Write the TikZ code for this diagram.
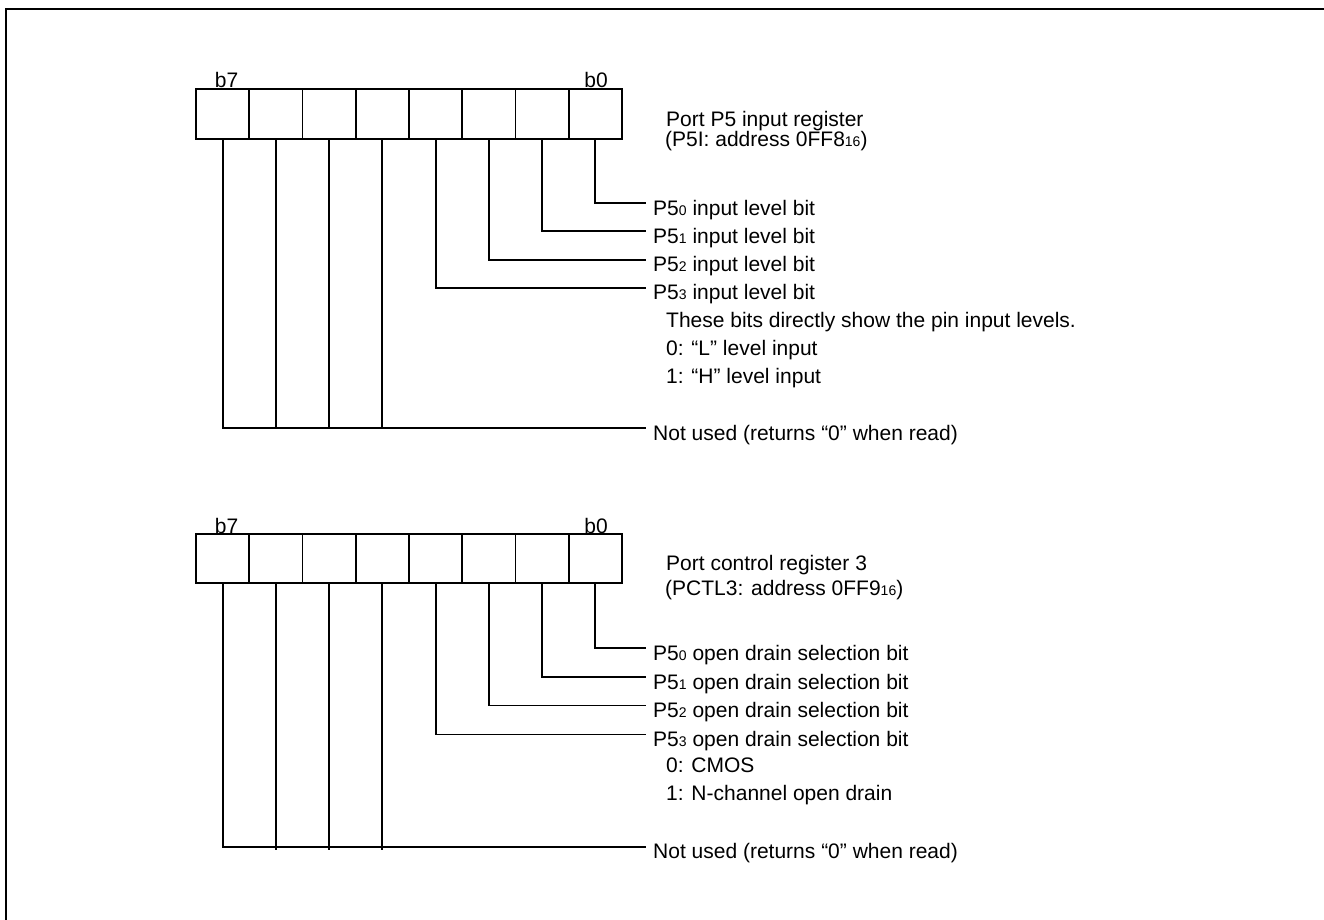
\documentclass[tikz,border=0pt]{standalone}
\usepackage{fontspec}
\setmainfont{Liberation Sans}
\newcommand{\lowsub}[1]{{\fontsize{14}{14}\selectfont #1}}
\begin{document}
\begin{tikzpicture}[x=1pt,y=-1pt,
  cell/.style={draw, line width=1.8pt, minimum width=53.25pt, minimum height=50pt, inner sep=0pt, outer sep=0pt, anchor=north west},
  lbl/.style={inner sep=0pt, anchor=base west, font=\fontsize{21}{21}\selectfont},
  bitlbl/.style={inner sep=0pt, anchor=base, font=\fontsize{21}{21}\selectfont},
  wire/.style={line width=1.8pt},
  frame/.style={line width=2.2pt}]
\useasboundingbox (0,0) rectangle (1324,920);
\draw[frame] (6,921) -- (6,9) -- (1325,9);

% ---------- Register 1: Port P5 input register ----------
\foreach \i in {0,...,7}{
  \pgfmathtruncatemacro\b{7-\i}
  \node[cell] (a\b) at ({196+\i*53.25},89) {};
}
\node[bitlbl] (ab7) at (226.5,88) {b7};
\node[bitlbl] (ab0) at (596,88) {b0};
\node[lbl] (at1) at (666,127) {Port P5 input register};
\node[lbl] (at2) at (665,147) {(P5I: address 0FF8\lowsub{16})};

\coordinate (ea0) at (646,203);
\coordinate (ea1) at (646,231);
\coordinate (ea2) at (646,260);
\coordinate (ea3) at (646,288);
\coordinate (eau) at (646,428);
\node[lbl] (la0) at (653,215.5) {P5\lowsub{0} input level bit};
\node[lbl] (la1) at (653,243.5) {P5\lowsub{1} input level bit};
\node[lbl] (la2) at (653,271.5) {P5\lowsub{2} input level bit};
\node[lbl] (la3) at (653,299.5) {P5\lowsub{3} input level bit};
\node[lbl] (lan1) at (666,327) {These bits directly show the pin input levels.};
\node[lbl] (lan2) at (666,355) {0: “L” level input};
\node[lbl] (lan3) at (666,383) {1: “H” level input};
\node[lbl] (lau) at (653,440) {Not used (returns “0” when read)};

\foreach \b in {0,1,2,3}{
  \draw[wire] (a\b.south) |- (ea\b);
}
\draw[wire] (a7.south) |- (eau);
\foreach \b in {6,5,4}{
  \draw[wire] (a\b.south) -- (a\b.south |- eau);
}

% ---------- Register 2: Port control register 3 ----------
\foreach \i in {0,...,7}{
  \pgfmathtruncatemacro\b{7-\i}
  \node[cell, minimum height=49pt] (c\b) at ({196+\i*53.25},534) {};
}
\node[bitlbl] (cb7) at (226.5,533) {b7};
\node[bitlbl] (cb0) at (596,533) {b0};
\node[lbl] (ct1) at (666,570) {Port control register 3};
\node[lbl] (ct2) at (665,595) {(PCTL3: address 0FF9\lowsub{16})};

\coordinate (ec0) at (646,648);
\coordinate (ec1) at (646,677);
\coordinate (ec2) at (646,705.5);
\coordinate (ec3) at (646,734.5);
\coordinate (ecu) at (646,847);
\node[lbl] (lc0) at (653,660) {P5\lowsub{0} open drain selection bit};
\node[lbl] (lc1) at (653,689) {P5\lowsub{1} open drain selection bit};
\node[lbl] (lc2) at (653,717.5) {P5\lowsub{2} open drain selection bit};
\node[lbl] (lc3) at (653,746.5) {P5\lowsub{3} open drain selection bit};
\node[lbl] (lcn1) at (666,772) {0: CMOS};
\node[lbl] (lcn2) at (666,800.5) {1: N-channel open drain};
\node[lbl] (lcu) at (653,858.5) {Not used (returns “0” when read)};

\foreach \b in {0,1,2,3}{
  \draw[wire] (c\b.south) |- (ec\b);
}
\draw[wire] (c7.south) |- (ecu);
\foreach \b in {6,5,4}{
  \draw[wire] (c\b.south) -- ([yshift=-2.5pt]c\b.south |- ecu);
}
\end{tikzpicture}
\end{document}
